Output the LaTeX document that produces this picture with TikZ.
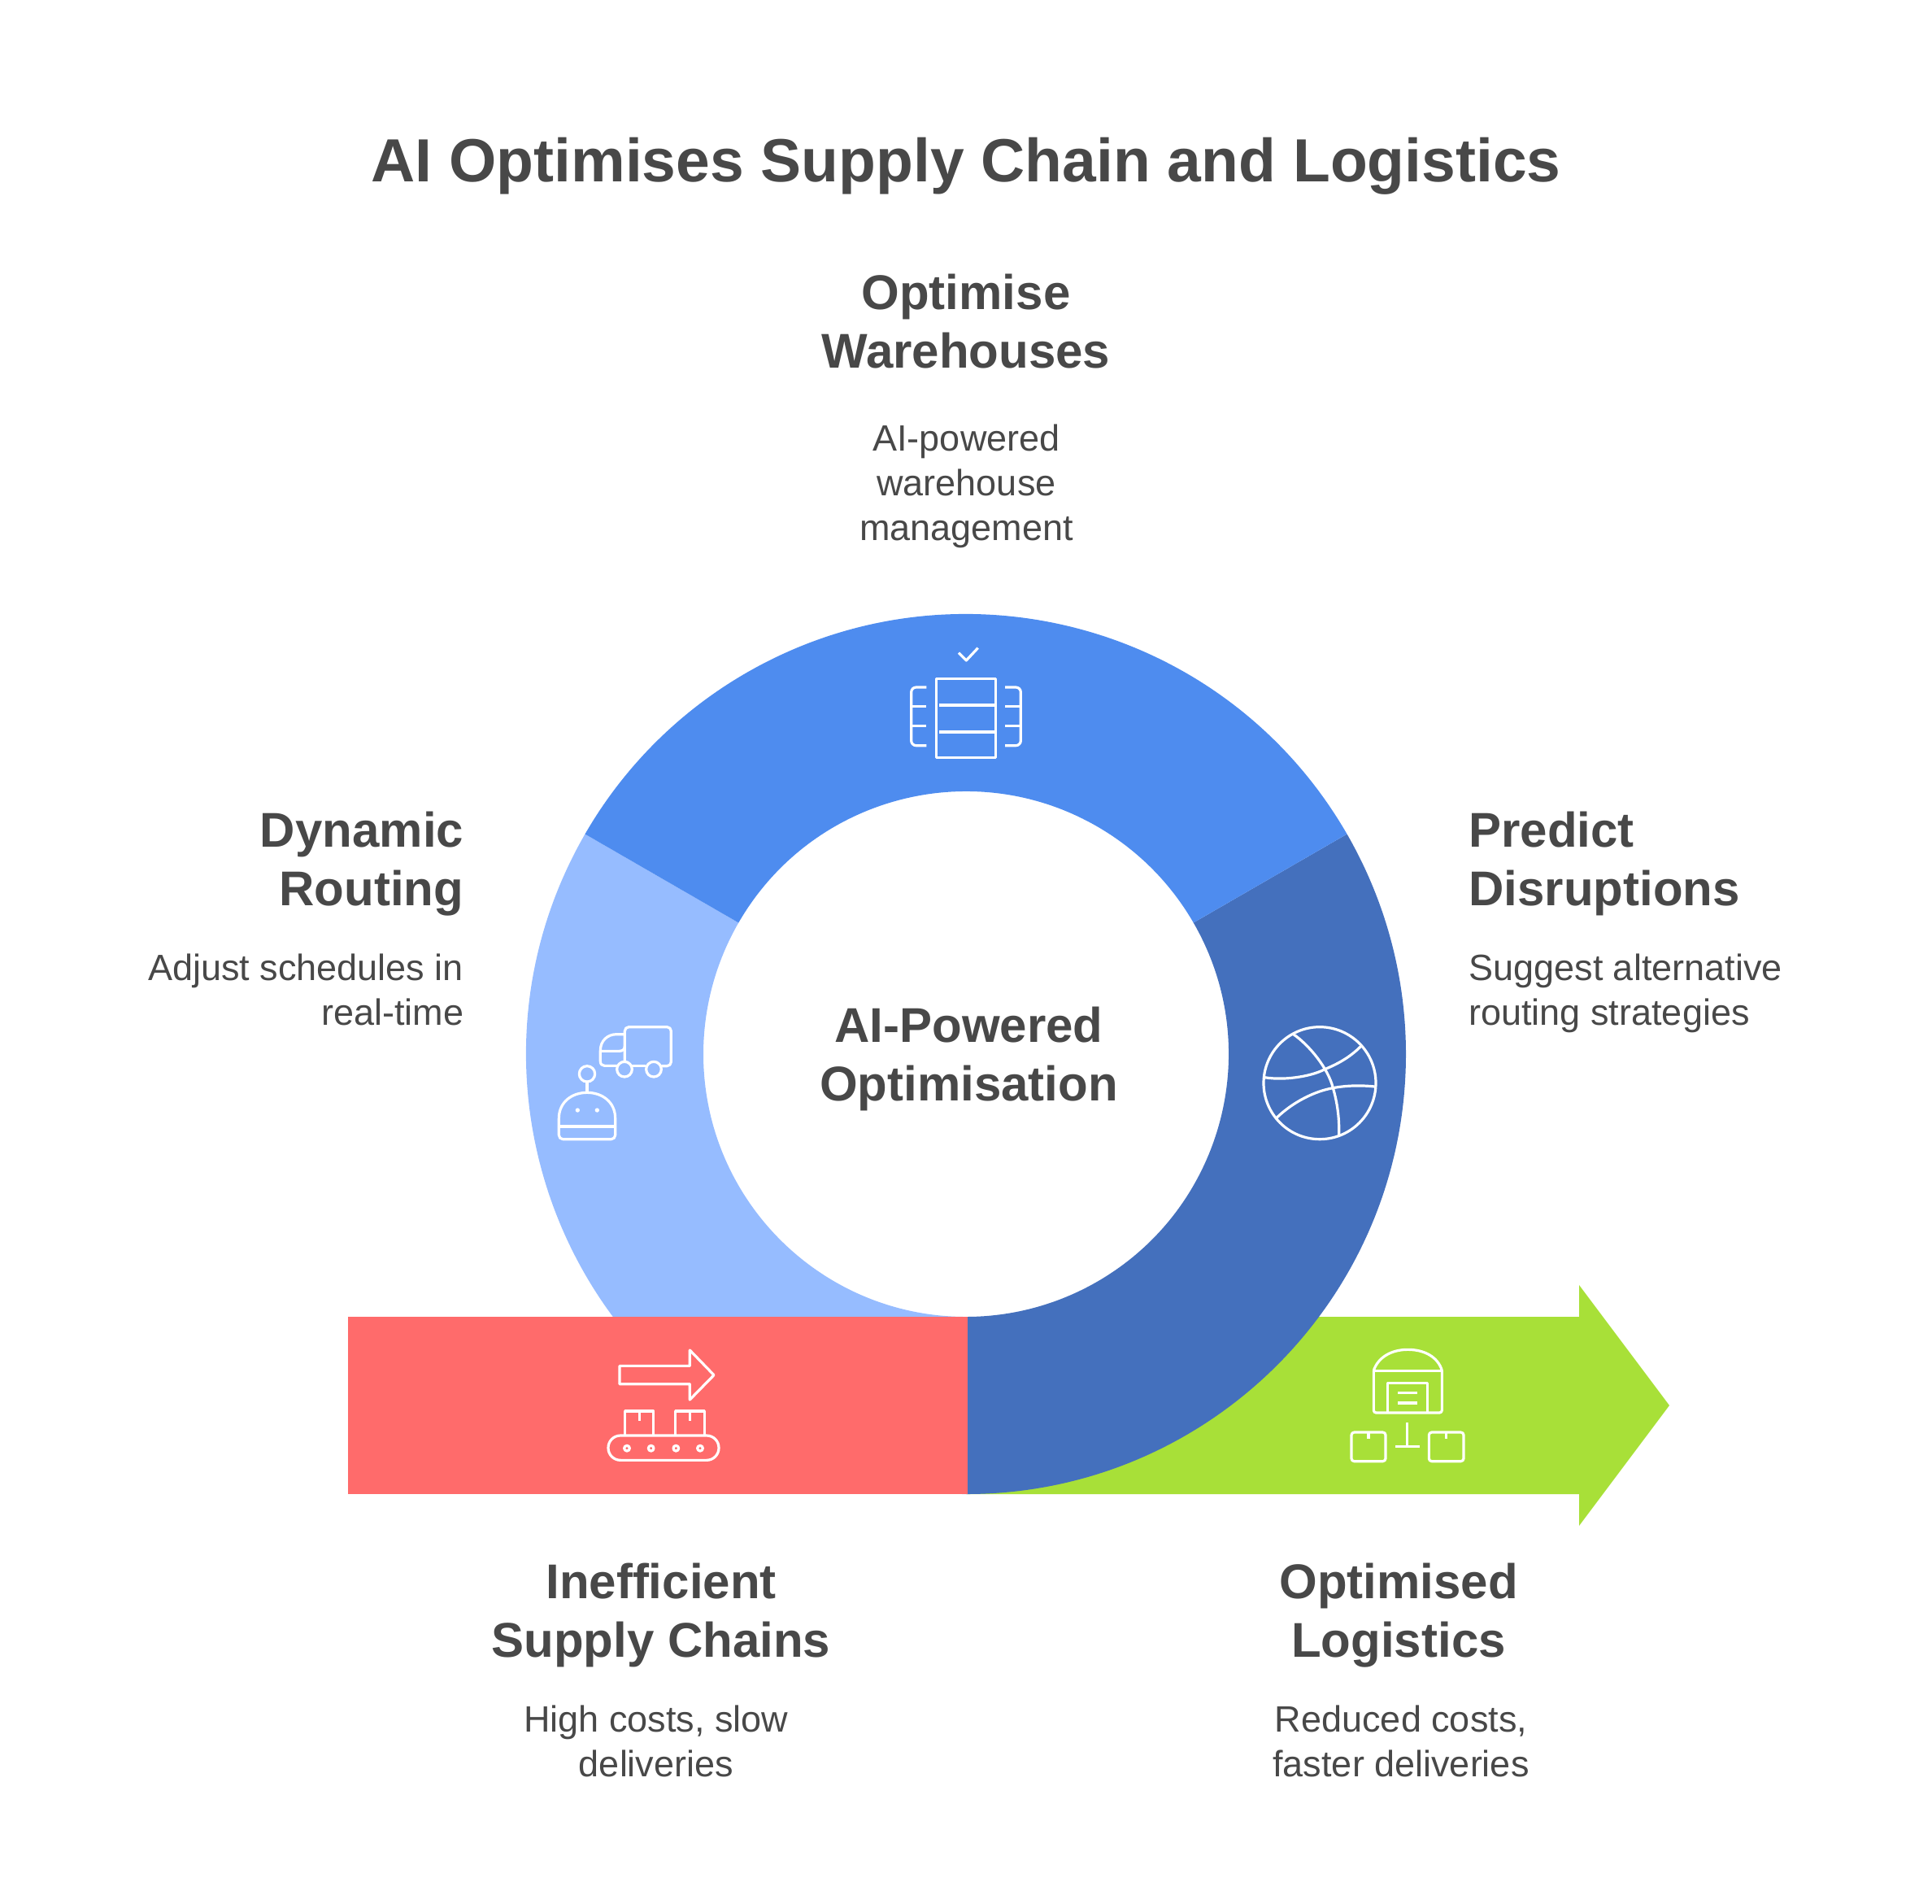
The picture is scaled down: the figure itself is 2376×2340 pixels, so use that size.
\documentclass[tikz,border=0pt]{standalone}
\usepackage{fontspec}
\setmainfont{Liberation Sans}
\definecolor{inkgrey}{HTML}{484848}
\definecolor{ringmid}{HTML}{4E8CEF}
\definecolor{ringlight}{HTML}{96BCFF}
\definecolor{ringdark}{HTML}{4470BD}
\definecolor{barred}{HTML}{FF6B6B}
\definecolor{bargreen}{HTML}{A8E038}
\newcommand{\st}{\strut}
\tikzset{
  titletext/.style={font=\fontsize{37.5}{45}\selectfont\bfseries,text=inkgrey,inner sep=0pt},
  headtext/.style={font=\fontsize{30}{36.3}\selectfont\bfseries,text=inkgrey,inner sep=0pt},
  desctext/.style={font=\fontsize{22.5}{27.5}\selectfont,text=inkgrey,inner sep=0pt},
  iconline/.style={draw=white,line width=1.6pt,line join=round,fill=none},
  icondot/.style={fill=white,draw=none},
  zoomed/.style={scale=1/3}
}
\begin{document}
\begin{tikzpicture}[x=0.5pt,y=-0.5pt]
\useasboundingbox (0,0) rectangle (2376,2340);
% green arrow
\fill[bargreen] (1189,1619) -- (1942,1619) -- (1942,1580) -- (2053,1728) -- (1942,1876) -- (1942,1837) -- (1189,1837) -- cycle;
% ring
\begin{scope}[shift={(1188,1296)},x=0.5pt,y=0.5pt]
  \fill[ringlight] (150:541) arc[start angle=150,end angle=270,radius=541] -- (270:323) arc[start angle=270,end angle=150,radius=323] -- cycle;
  \fill[ringdark] (-90:541) arc[start angle=-90,end angle=30,radius=541] -- (30:323) arc[start angle=30,end angle=-90,radius=323] -- cycle;
  \fill[ringmid] (30:541) arc[start angle=30,end angle=150,radius=541] -- (150:323) arc[start angle=150,end angle=30,radius=323] -- cycle;
\end{scope}
% red bar
\fill[barred] (428,1619) rectangle (1190,1837);
% server icon
\begin{scope}[shift={(1060,760)},zoomed]
  \draw[iconline] (357,128) -- (385,156) -- (428,110);
  \draw[iconline] (274,224) rectangle (493,514);
  \draw[iconline] (285,321) -- (488,321) (285,420) -- (488,420);
  \draw[iconline,rounded corners=3pt] (238,255) -- (182,255) -- (182,470) -- (238,470);
  \draw[iconline] (185,326) -- (238,326) (185,398) -- (238,398);
  \draw[iconline,rounded corners=3pt] (528,255) -- (586,255) -- (586,470) -- (528,470);
  \draw[iconline] (528,326) -- (583,326) (528,398) -- (583,398);
\end{scope}
% truck and robot icon
\begin{scope}[shift={(660,1230)},zoomed]
  \draw[iconline,rounded corners=2.5pt] (325,225) -- (325,98) -- (496,98) -- (496,242) -- (460,242);
  \draw[iconline] (350,242) -- (403,242);
  \draw[iconline] (324,254) circle (28) (432,254) circle (28);
  \draw[iconline] (325,125) -- (295,125) .. controls (260,125) and (235,150) .. (235,185) -- (235,225) .. controls (235,235) and (242,241) .. (250,241) -- (297,241);
  \draw[iconline] (235,187) -- (305,187) .. controls (317,187) and (325,180) .. (325,170);
  \draw[iconline] (186,271) circle (29);
  \draw[iconline] (186,300) -- (186,338);
  \draw[iconline] (82,465) -- (82,435) .. controls (82,375) and (130,340) .. (186,340) .. controls (242,340) and (290,375) .. (290,435) -- (290,465);
  \draw[iconline] (82,465) -- (290,465);
  \draw[iconline,rounded corners=2.5pt] (82,465) -- (82,512) -- (290,512) -- (290,465);
  \fill[icondot] (151,405) circle (8) (223,405) circle (8);
\end{scope}
% globe icon
\begin{scope}[shift={(1520,1240)},zoomed]
  \draw[iconline] (309,275) circle (207);
  \draw[iconline] (212,95) .. controls (270,135) and (340,220) .. (358,293) .. controls (375,350) and (382,410) .. (380,470);
  \draw[iconline] (105,254) .. controls (190,268) and (290,245) .. (325,225) .. controls (375,205) and (420,180) .. (460,140);
  \draw[iconline] (150,403) .. controls (210,345) and (290,305) .. (358,293) .. controls (410,283) and (465,283) .. (512,288);
\end{scope}
% conveyor icon
\begin{scope}[shift={(730,1640)},zoomed]
  \draw[iconline] (96,118) -- (355,118) -- (355,60) -- (444,152) -- (355,243) -- (355,185) -- (96,185) -- cycle;
  \draw[iconline] (116,372) -- (116,285) -- (221,285) -- (221,372) (169,285) -- (169,320);
  \draw[iconline] (302,372) -- (302,285) -- (409,285) -- (409,372) (355,285) -- (355,320);
  \draw[iconline,rounded corners=7.5pt] (54,375) rectangle (462,466);
  \draw[iconline] (123,422) circle (10) (212,422) circle (10) (304,422) circle (10) (393,422) circle (10);
\end{scope}
% warehouse icon
\begin{scope}[shift={(1640,1640)},zoomed]
  \draw[iconline] (148,135) .. controls (165,85) and (215,58) .. (274,58) .. controls (335,58) and (385,85) .. (400,135);
  \draw[iconline] (148,137) -- (400,137);
  \draw[iconline,rounded corners=1.5pt] (148,135) -- (148,291) -- (400,291) -- (400,135);
  \draw[iconline] (200,290) -- (200,182) -- (347,182) -- (347,290);
  \draw[iconline] (238,217) -- (308,217) (238,255) -- (308,255);
  \draw[iconline,rounded corners=1.7pt] (66,363) rectangle (192,470);
  \draw[iconline] (129,363) -- (129,388);
  \draw[iconline,rounded corners=1.7pt] (352,363) rectangle (480,470);
  \draw[iconline] (416,363) -- (416,388);
  \draw[iconline] (272,328) -- (272,416) (228,416) -- (318,416);
\end{scope}
% texts
\node[titletext] (title) at (1188,204) {AI Optimises Supply Chain and Logistics};
\node[headtext,align=center] (wareh) at (1188,402) {\st Optimise\\\st Warehouses};
\node[desctext,align=center] (wared) at (1188.5,598) {\st AI-powered\\\st warehouse\\\st management};
\node[headtext,align=right,anchor=east] (routh) at (570.5,1063) {\st Dynamic\\\st Routing};
\node[desctext,align=right,anchor=east] (routd) at (570.5,1222) {\st Adjust schedules in\\\st real-time};
\node[headtext,align=left,anchor=west] (predh) at (1806,1063) {\st Predict\\\st Disruptions};
\node[desctext,align=left,anchor=west] (predd) at (1806,1222) {\st Suggest alternative\\\st routing strategies};
\node[headtext,align=center] (center) at (1191.5,1303) {\st AI-Powered\\\st Optimisation};
\node[headtext,align=center] (ineffh) at (813,1987) {\st Inefficient\\\st Supply Chains};
\node[desctext,align=center] (ineffd) at (807,2146) {\st High costs, slow\\\st deliveries};
\node[headtext,align=center] (opth) at (1720,1987) {\st Optimised\\\st Logistics};
\node[desctext,align=center] (optd) at (1723,2146) {\st Reduced costs,\\\st faster deliveries};
\end{tikzpicture}
\end{document}
